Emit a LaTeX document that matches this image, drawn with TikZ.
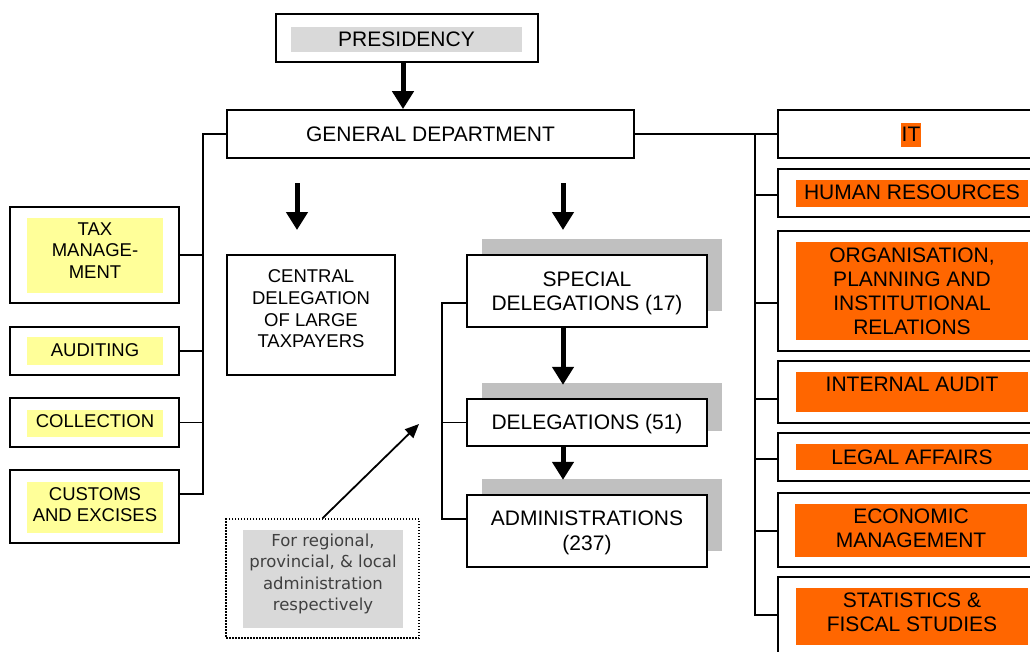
\documentclass[tikz,border=0pt]{standalone}
\usepackage{fontspec}
\setmainfont{Liberation Sans}
\newfontfamily\dejavu{DejaVu Sans}
\usetikzlibrary{arrows.meta}
\definecolor{yel}{HTML}{FFFF99}
\definecolor{org}{HTML}{FF6600}
\definecolor{shd}{HTML}{C0C0C0}
\definecolor{lgr}{HTML}{D9D9D9}
\definecolor{ntxt}{HTML}{404040}
\newcommand\bigtxt{\fontsize{21}{24}\selectfont}
\newcommand\midtxt{\fontsize{18.5}{21.7}\selectfont}
\newcommand\notetxt{\dejavu\fontsize{16.5}{21.3}\selectfont}
\tikzset{
  box/.style={draw, line width=1.8pt, fill=white, inner sep=0pt},
  shadowbox/.style={fill=shd, inner sep=0pt},
  yfill/.style={fill=yel, inner sep=0pt},
  ofill/.style={fill=org, inner sep=0pt},
  btext/.style={inner sep=0pt, align=center, font=\bigtxt},
  mtext/.style={inner sep=0pt, align=center, font=\midtxt},
  conn/.style={line width=1.8pt},
  bigarrow/.style={line width=5pt, -{Triangle[width=21pt,length=18pt]}},
  thinarrow/.style={line width=1.8pt, -{Triangle[width=12pt,length=14pt]}},
}
\begin{document}
\begin{tikzpicture}[x=1pt,y=-1pt]
\useasboundingbox (0,0) rectangle (1030,651);
\clip (0,0) rectangle (1030,651);
\fill[white] (0,0) rectangle (1030,651);

% Presidency and general department
\node[box, minimum width=262pt, minimum height=48pt] (pres) at (407,38) {};
\node[fill=lgr, inner sep=0pt, minimum width=231pt, minimum height=25pt, font=\bigtxt] (presin) at (406.5,39.5) {PRESIDENCY};
\node[box, minimum width=407pt, minimum height=48pt, font=\bigtxt] (gen) at (430.5,134) {GENERAL DEPARTMENT};
\coordinate (pa) at (403,0);
\draw[bigarrow] (pres.south -| pa) -- (gen.north -| pa);

% Left boxes
\node[box, minimum width=169pt, minimum height=96pt] (tax) at (94.5,255) {};
\node[yfill, minimum width=136pt, minimum height=75pt] (taxin) at (95,255.5) {};
\node[mtext] (taxt) at (95,250.5) {TAX\\MANAGE-\\MENT};
\node[box, minimum width=169pt, minimum height=48pt] (aud) at (94.5,351) {};
\node[yfill, minimum width=136pt, minimum height=28pt] (audin) at (95,351) {};
\node[mtext] (audt) at (95,350.5) {AUDITING};
\node[box, minimum width=169pt, minimum height=49pt] (col) at (94.5,422.5) {};
\node[yfill, minimum width=136pt, minimum height=27pt] (colin) at (95,423.5) {};
\node[mtext] (colt) at (95,421.5) {COLLECTION};
\node[box, minimum width=169pt, minimum height=73pt] (cus) at (94.5,506.5) {};
\node[yfill, minimum width=136pt, minimum height=51pt] (cusin) at (95,507.5) {};
\node[mtext] (cust) at (95,504.5) {CUSTOMS\\AND EXCISES};

\coordinate (lbus) at (203,494);
\draw[conn] (gen.west) -| (lbus) -- (lbus -| cus.east);
\draw[conn] (tax.east) -- (tax.east -| lbus);
\draw[conn] (aud.east) -- (aud.east -| lbus);
\draw[conn] (col.east) -- (col.east -| lbus);

% Arrows under general department
\coordinate (a1s) at (297,183);
\coordinate (a1e) at (297,230);
\coordinate (a2s) at (563,183);
\coordinate (a2e) at (563,230);
\draw[bigarrow] (a1s) -- (a1e);
\draw[bigarrow] (a2s) -- (a2e);

% Central delegation
\node[box, minimum width=168pt, minimum height=120pt] (cen) at (311,315) {};
\node[mtext] (centxt) at (311,309) {CENTRAL\\DELEGATION\\OF LARGE\\TAXPAYERS};

% Delegation chain
\node[shadowbox, minimum width=240pt, minimum height=72pt] (spesh) at (602,275) {};
\node[box, minimum width=240pt, minimum height=72pt] (spe) at (587,291) {};
\node[btext] (spet) at (587,293) {SPECIAL\\DELEGATIONS (17)};
\node[shadowbox, minimum width=240pt, minimum height=48pt] (delsh) at (602,407) {};
\node[box, minimum width=240pt, minimum height=47pt] (del) at (587,422.5) {};
\node[btext] (delt) at (587,424) {DELEGATIONS (51)};
\node[shadowbox, minimum width=240pt, minimum height=72pt] (admsh) at (602,515) {};
\node[box, minimum width=240pt, minimum height=72pt] (adm) at (587,531) {};
\node[inner sep=0pt, align=center, font=\fontsize{21}{25.5}\selectfont] (admt) at (587,533) {ADMINISTRATIONS\\(237)};
\coordinate (s1) at (563,0);
\draw[bigarrow] (spe.south -| s1) -- ([yshift=-2pt]delsh.north -| s1);
\draw[bigarrow] (del.south -| s1) -- ([yshift=-1pt]admsh.north -| s1);

\coordinate (db1) at (442,303);
\coordinate (db3) at (442,519);
\draw[conn] (db1 -| spe.west) -- (db1) -- (db3) -- (db3 -| adm.west);
\draw[conn] (del.west) -- (del.west -| db1);

% Note
\node[draw, line width=1.5pt, dash pattern=on 1.5pt off 1.5pt, minimum width=193pt, minimum height=119pt, inner sep=0pt] (note) at (322.5,578.5) {};
\node[fill=lgr, inner sep=0pt, minimum width=160pt, minimum height=98pt] (notein) at (323,579) {};
\node[inner sep=0pt, align=center, font=\notetxt, text=ntxt] (notet) at (323,574) {For regional,\\provincial, \& local\\administration\\respectively};
\coordinate (nt) at (419,424);
\draw[thinarrow] (note.north) -- (nt);

% Right boxes
\node[box, minimum width=262pt, minimum height=48pt] (it) at (909,134) {};
\node[ofill, minimum width=20pt, minimum height=24pt] (itin) at (911,135) {};
\node[btext] (itt) at (911,134) {IT};
\node[box, minimum width=262pt, minimum height=48pt] (hr) at (909,193) {};
\node[ofill, minimum width=232pt, minimum height=27pt] (hrin) at (912,193.5) {};
\node[btext] (hrt) at (912,192.5) {HUMAN RESOURCES};
\node[box, minimum width=262pt, minimum height=120pt] (orgb) at (909,291) {};
\node[ofill, minimum width=232pt, minimum height=98pt] (orgin) at (912,291) {};
\node[btext] (orgt) at (912,291) {ORGANISATION,\\PLANNING AND\\INSTITUTIONAL\\RELATIONS};
\node[box, minimum width=262pt, minimum height=62pt] (ia) at (909,392) {};
\node[ofill, minimum width=232pt, minimum height=40pt] (iain) at (912,392) {};
\node[btext] (iat) at (912,384) {INTERNAL AUDIT};
\node[box, minimum width=262pt, minimum height=48pt] (la) at (909,457) {};
\node[ofill, minimum width=232pt, minimum height=26pt] (lain) at (912,457) {};
\node[btext] (lat) at (912,457) {LEGAL AFFAIRS};
\node[box, minimum width=262pt, minimum height=74pt] (em) at (909,530) {};
\node[ofill, minimum width=232pt, minimum height=53pt] (emin) at (911,530.5) {};
\node[btext] (emt) at (911,528.5) {ECONOMIC\\MANAGEMENT};
\node[box, minimum width=262pt, minimum height=83pt] (sfs) at (909,618.5) {};
\node[ofill, minimum width=232pt, minimum height=57pt] (sfsin) at (912,616.5) {};
\node[btext] (sfst) at (912,612.5) {STATISTICS \&\\FISCAL STUDIES};

\draw[conn] (gen.east) -- (it.west);
\coordinate (rb1) at (755,134);
\coordinate (rb2) at (755,615);
\draw[conn] (rb1) -- (rb2) -- (rb2 -| sfs.west);
\foreach \yy/\nn in {195/hr, 303/orgb, 399/ia, 459/la, 531/em}{
  \coordinate (rbx) at (755,\yy);
  \draw[conn] (rbx) -- (rbx -| \nn.west);
}
\end{tikzpicture}
\end{document}
